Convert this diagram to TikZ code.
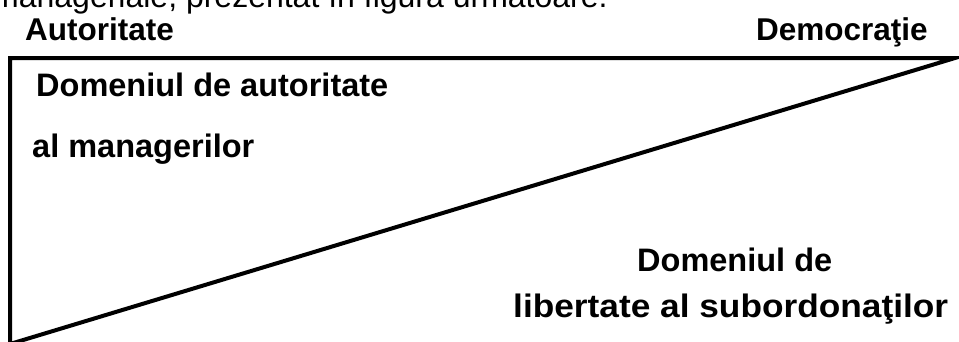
\documentclass[tikz,border=0pt]{standalone}
\usepackage{fontspec}
\setmainfont{Liberation Sans}
\begin{document}
\begin{tikzpicture}[x=1pt,y=-1pt,
  heading/.style={inner sep=0pt,anchor=base west,font=\fontsize{31.5}{36}\selectfont\bfseries},
  field/.style={inner sep=0pt,anchor=base west,font=\fontsize{32.5}{38}\selectfont\bfseries},
  prose/.style={inner sep=0pt,anchor=base west,font=\fontsize{32}{38}\selectfont},
  frame/.style={line width=4pt,line join=miter}]
\useasboundingbox (0,0) rectangle (959,341);

% running text of the page above the figure
\node[prose] (intro) at (-8,7) {manageriale, prezentat în figura următoare.};

% the two ends of the scale
\node[heading] (aut) at (25,40) {Autoritate};
\node[heading] (dem) at (756,40) {Democraţie};

% triangle split by the diagonal
\coordinate (tl) at (10,58);
\coordinate (tr) at (955,58);
\coordinate (bl) at (10,344);
\draw[frame] (bl) -- (tl) -- (tr) -- cycle;

% the two domains
\node[field] (mgr1) at (36,96) {Domeniul de autoritate};
\node[field] (mgr2) at (32,157) {al managerilor};
\node[field] (sub1) at (637,271) {Domeniul de};
\node[field] (sub2) at (513,317) {\resizebox{435pt}{\height}{libertate al subordonaţilor}};
\end{tikzpicture}
\end{document}
